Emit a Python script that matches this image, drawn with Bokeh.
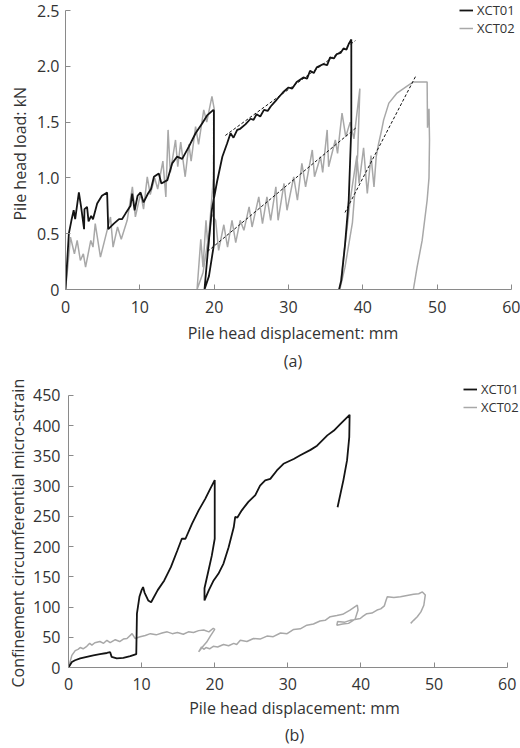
from bokeh.plotting import figure
from bokeh.layouts import column, row
from bokeh.models import (FixedTicker, CustomJSTickFormatter, Legend, LegendItem,
                          Title, Range1d, Spacer)
from bokeh.embed import file_html
from bokeh.resources import INLINE

# ---------------------------------------------------------------- data
# (a) pile head load (kN) against pile head displacement (mm)
disp_a_xct01 = [
    0.0, 0.45, 0.8, 1.1, 1.3, 1.8, 2.1, 2.5, 2.55, 2.9,
    3.1, 3.45, 3.7, 4.26, 4.9, 5.6, 5.75, 6.5, 7.2, 7.6,
    8.07, 8.75, 8.97, 9.3, 9.7, 10.1, 10.5, 11.1, 11.5, 11.9,
    12.55, 12.9, 13.7, 14.35, 15.0, 15.7, 16.6, 17.5, 18.4, 19.05,
    19.9, 19.96, 19.96, 19.3, 18.7, 19.2, 19.7, 20.4, 21.1, 21.75,
    22.2, 22.6, 23.1, 23.5, 24.2, 24.9, 25.3, 25.7, 26.2, 26.7,
    27.2, 27.6, 28.0, 28.4, 29.3, 30.0, 30.5, 31.1, 32.0, 32.5,
    32.9, 33.4, 33.8, 34.7, 35.2, 35.6, 36.1, 36.5, 37.0, 37.4,
    37.8, 38.1, 38.45, 38.45, 38.1, 37.6, 37.1, 36.8]
load_a_xct01 = [
    0.0, 0.5, 0.62, 0.71, 0.63, 0.87, 0.74, 0.54, 0.72, 0.74,
    0.61, 0.66, 0.63, 0.77, 0.84, 0.87, 0.54, 0.59, 0.63, 0.63,
    0.68, 0.75, 0.86, 0.71, 0.84, 0.87, 0.78, 0.86, 0.9, 1.01,
    1.04, 0.95, 0.98, 1.13, 1.19, 1.17, 1.28, 1.4, 1.49, 1.56,
    1.61, 1.6, 0.4, 0.12, 0.0, 0.38, 0.72, 0.97, 1.19, 1.31,
    1.4, 1.36, 1.43, 1.44, 1.48, 1.53, 1.52, 1.57, 1.55, 1.61,
    1.6, 1.64, 1.67, 1.70, 1.77, 1.81, 1.8, 1.86, 1.9, 1.89,
    1.96, 1.94, 1.99, 2.02, 2.01, 2.08, 2.07, 2.11, 2.12, 2.16,
    2.15, 2.2, 2.24, 1.45, 0.8, 0.4, 0.08, 0.0]

disp_a_xct02 = [
    0.0, 0.3, 0.67, 1.2, 1.57, 2.0, 2.4, 2.7, 3.4, 3.7,
    4.0, 4.7, 5.6, 6.05, 6.4, 7.0, 7.5, 8.3, 9.0, 9.4,
    10.1, 10.5, 11.0, 11.4, 12.0, 12.4, 13.1, 13.5, 13.8, 14.1,
    14.8, 15.1, 15.5, 16.1, 16.6, 16.9, 17.5, 17.9, 18.6, 19.0,
    19.7, 20.0, 19.9, 19.3, 18.5, 17.7, 18.2, 18.5, 18.9, 19.2,
    19.6, 20.2, 20.6, 21.3, 21.8, 22.4, 22.9, 23.5, 24.0, 24.7,
    25.1, 26.0, 26.5, 27.1, 27.6, 28.3, 28.6, 29.4, 29.8, 30.7,
    31.2, 31.8, 32.3, 33.2, 33.5, 34.3, 34.6, 35.2, 35.4, 36.3,
    36.6, 37.2, 37.7, 38.3, 38.8, 39.6, 39.3, 38.6, 37.6, 36.9,
    37.4, 37.9, 38.3, 38.7, 39.2, 39.5, 40.1, 40.6, 41.1, 41.5,
    41.8, 42.1, 42.5, 42.8, 43.5, 44.6, 45.9, 46.8, 48.65, 48.7,
    48.9, 48.97, 48.9, 48.65, 47.98, 47.3, 46.8]
load_a_xct02 = [
    0.0, 0.2, 0.47, 0.32, 0.44, 0.26, 0.32, 0.2, 0.44, 0.38,
    0.59, 0.29, 0.53, 0.65, 0.38, 0.56, 0.45, 0.62, 0.92, 0.65,
    0.86, 0.72, 1.01, 0.85, 1.0, 0.9, 1.15, 0.83, 1.43, 1.05,
    1.34, 1.1, 1.32, 1.01, 1.3, 1.15, 1.46, 1.3, 1.61, 1.5,
    1.73, 1.62, 1.0, 0.5, 0.15, 0.0, 0.45, 0.2, 0.62, 0.35,
    0.68, 0.62, 0.35, 0.58, 0.38, 0.62, 0.42, 0.62, 0.53, 0.74,
    0.56, 0.83, 0.59, 0.83, 0.62, 0.92, 0.62, 0.95, 0.71, 1.01,
    0.8, 1.13, 0.92, 1.25, 1.01, 1.19, 1.05, 1.43, 1.1, 1.34,
    1.22, 1.58, 1.37, 1.5, 1.35, 1.8, 1.2, 0.6, 0.2, 0.0,
    0.29, 0.56, 0.8, 0.98, 1.2, 0.95, 1.27, 0.86, 1.2, 0.92,
    1.19, 1.3, 1.42, 1.52, 1.67, 1.76, 1.82, 1.86, 1.86, 1.45,
    1.62, 1.34, 1.0, 0.8, 0.44, 0.2, 0.0]

# straight-line fits to the reloading branches (dotted)
fit_a1_disp = [21.5, 39.0]
fit_a1_load = [1.38, 2.23]
fit_a2_disp = [19.1, 39.1]
fit_a2_load = [0.34, 1.45]
fit_a3_disp = [37.6, 47.1]
fit_a3_load = [0.69, 1.91]

# (b) confinement circumferential micro-strain against pile head displacement (mm)
disp_b_xct01 = [
    0.0, 0.46, 0.9, 1.6, 2.5, 3.4, 4.3, 5.25, 5.7, 5.9,
    6.6, 7.5, 8.45, 9.27, 9.36, 9.7, 10.0, 10.2, 10.4, 10.9,
    11.3, 12.2, 13.1, 14.0, 14.9, 15.5, 16.0, 16.9, 17.8, 18.7,
    19.4, 20.0, 20.0, 19.6, 19.1, 18.6, 18.6, 19.2, 19.85, 20.5,
    21.2, 21.9, 22.6, 22.8, 23.1, 23.7, 24.6, 25.55, 26.2, 26.9,
    27.6, 28.5, 29.4, 30.8, 31.7, 33.1, 34.0, 35.4, 36.3, 37.2,
    38.45, 38.4, 38.1, 37.6, 36.8]
strain_b_xct01 = [
    0, 9, 12, 15, 17.6, 20, 22, 24, 25.3, 17.6,
    15, 16, 18.7, 22, 89, 117, 128, 133, 124, 111,
    108, 128, 144, 166, 194, 213, 213, 238, 260, 279,
    296, 310, 213, 185, 158, 131, 111, 128, 144, 155,
    172, 199, 232, 249, 248, 260, 274, 285, 301, 309.6,
    312, 326, 337, 345, 351, 360, 367, 384, 392, 403,
    418, 381, 343, 310, 265]

disp_b_xct02 = [
    0.0, 0.46, 0.92, 1.3, 1.6, 2.0, 2.5, 2.9, 3.2, 3.6,
    4.3, 4.8, 5.25, 5.7, 6.4, 7.0, 7.5, 8.0, 8.7, 9.1,
    9.8, 10.5, 11.2, 12.0, 12.8, 13.5, 14.2, 14.9, 15.7, 16.4,
    17.1, 17.8, 18.5, 19.2, 19.8, 20.0, 19.4, 18.9, 18.4, 18.0,
    17.8, 18.2, 18.5, 18.8, 19.3, 19.8, 20.4, 21.2, 21.9, 22.6,
    23.0, 23.5, 24.4, 25.3, 26.2, 27.15, 28.0, 29.0, 29.9, 30.8,
    31.7, 32.6, 33.5, 34.4, 35.1, 35.8, 36.7, 37.5, 38.5, 39.5,
    39.6, 39.2, 38.3, 37.5, 36.7, 36.8, 37.8, 38.5, 39.0, 39.9,
    40.3, 40.8, 41.5, 42.2, 42.7, 43.2, 43.4, 43.6, 44.5, 45.4,
    46.3, 47.2, 47.9, 48.4, 48.8, 48.6, 48.2, 47.7, 47.2, 46.8]
strain_b_xct02 = [
    0, 20, 28, 30, 33, 31, 35, 40, 37, 41,
    43, 40, 45, 41, 46, 43, 47, 48, 56, 48,
    51, 53, 56, 54, 57, 59, 56, 58, 55, 59,
    58, 61, 62, 59, 65, 63, 52, 42, 35, 29,
    26, 34, 30, 33, 31, 35, 34, 38, 36, 40,
    38, 45, 43, 48, 47, 52, 51, 57, 56, 63,
    64, 70, 72, 77, 78, 84, 86, 88, 95, 103,
    95, 80, 73, 72, 70, 76, 75, 78, 79, 81,
    85, 89, 90, 95, 97, 102, 110, 117, 116, 117,
    119, 121, 122, 125, 120, 103, 92, 84, 78, 73]

disp_ticks = [0, 10, 20, 30, 40, 50, 60]
load_ticks = [0, 0.5, 1.0, 1.5, 2.0, 2.5]
strain_ticks = [0, 50, 100, 150, 200, 250, 300, 350, 400, 450]

# ---------------------------------------------------------------- style
FONT = "Open Sans"
TEXT = "#333333"
AXIS = "#8a8a8a"
BLACK = "#141414"
GREY = "#a8a8a8"
FS = "16px"


def style_axes(p, y_bound, y_ticks):
    """Plain left/bottom axes with inward ticks.  The frame runs past the
    last tick (right and top) so the legend can sit at the very edge; the
    axis lines are bounded to the tick range."""
    p.outline_line_color = None
    p.grid.visible = False
    p.background_fill_color = "white"
    p.border_fill_color = "white"
    for ax in p.axis:
        ax.axis_line_color = AXIS
        ax.axis_line_width = 1
        ax.major_tick_line_color = AXIS
        ax.major_tick_in = 5
        ax.major_tick_out = 0
        ax.minor_tick_line_color = None
        ax.major_label_text_font = FONT
        ax.major_label_text_font_size = FS
        ax.major_label_text_color = TEXT
        ax.axis_label_text_font = FONT
        ax.axis_label_text_font_size = FS
        ax.axis_label_text_font_style = "normal"
        ax.axis_label_text_color = TEXT
    p.xaxis.ticker = FixedTicker(ticks=disp_ticks)
    p.yaxis.ticker = FixedTicker(ticks=y_ticks)
    p.xaxis.bounds = (0, 60)
    p.yaxis.bounds = (0, y_bound)


def add_y_title(p, text, offset, standoff, valign):
    # vertical axis title, placed along the 0..max part of the axis
    p.add_layout(Title(text=text, align="left", offset=offset,
                       vertical_align=valign, standoff=standoff,
                       text_font=FONT, text_font_size=FS,
                       text_font_style="normal", text_color=TEXT), "left")


def add_legend(p, r1, r2, loc):
    legend = Legend(items=[LegendItem(label="XCT01", renderers=[r1]),
                           LegendItem(label="XCT02", renderers=[r2])],
                    location=loc, orientation="vertical",
                    border_line_color=None, background_fill_alpha=0,
                    padding=0, margin=0, spacing=-6,
                    glyph_width=14, glyph_height=16, label_height=16,
                    label_standoff=4,
                    label_text_font=FONT, label_text_font_size="13px",
                    label_text_color=TEXT)
    p.add_layout(legend, "center")


def add_caption(p, text, standoff):
    p.add_layout(Title(text=text, align="center", text_font=FONT,
                       text_font_size=FS, text_font_style="normal",
                       text_color=TEXT, standoff=standoff), "below")


# ---------------------------------------------------------------- (a)
pa = figure(width=520, height=374,
            x_range=Range1d(0, 61.21), y_range=Range1d(0, 2.5896),
            output_backend="svg", toolbar_location=None, tools="",
            min_border_left=65, min_border_right=0, min_border_top=0,
            min_border_bottom=85,
            x_axis_label="Pile head displacement: mm")
style_axes(pa, 2.5, load_ticks)
pa.yaxis.formatter = CustomJSTickFormatter(
    code="return tick == 0 ? '0' : tick.toFixed(1);")
pa.yaxis.major_label_standoff = 6
pa.xaxis.major_label_standoff = 11
pa.xaxis.axis_label_standoff = 6
add_y_title(pa, "Pile head load: kN", 69, 6, "bottom")

ra2 = pa.line(disp_a_xct02, load_a_xct02, line_color=GREY, line_width=1.5)
ra1 = pa.line(disp_a_xct01, load_a_xct01, line_color=BLACK, line_width=1.8)
for fx, fy in ((fit_a1_disp, fit_a1_load), (fit_a2_disp, fit_a2_load),
               (fit_a3_disp, fit_a3_load)):
    pa.line(fx, fy, line_color=BLACK, line_width=1, line_dash="3 2")

add_legend(pa, ra1, ra2, (394, 252))
add_caption(pa, "(a)", 3)

# ---------------------------------------------------------------- (b)
pb = figure(width=517, height=374,
            x_range=Range1d(0, 61.82), y_range=Range1d(0, 484.7),
            output_backend="svg", toolbar_location=None, tools="",
            min_border_left=65, min_border_right=0, min_border_top=0,
            min_border_bottom=81,
            x_axis_label="Pile head displacement: mm")
style_axes(pb, 450, strain_ticks)
pb.yaxis.major_label_standoff = 8
pb.xaxis.major_label_standoff = 10
pb.xaxis.axis_label_standoff = 4
add_y_title(pb, "Confinement circumferential micro-strain", -20, 0, "top")

rb2 = pb.line(disp_b_xct02, strain_b_xct02, line_color=GREY, line_width=1.5)
rb1 = pb.line(disp_b_xct01, strain_b_xct01, line_color=BLACK, line_width=1.8)

add_legend(pb, rb1, rb2, (395, 251))
add_caption(pb, "(b)", 0)

layout = column(pa, row(Spacer(width=3, height=374), pb, spacing=0), spacing=0)
open("out.html", "w").write(file_html(layout, INLINE))
